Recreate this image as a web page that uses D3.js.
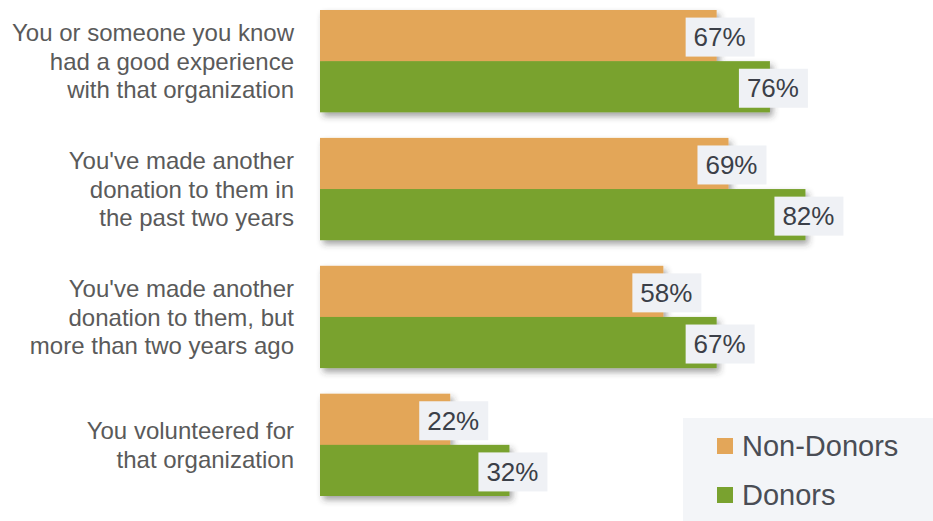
<!DOCTYPE html>
<html>
<head>
<meta charset="utf-8">
<script src="https://cdn.jsdelivr.net/npm/d3@7"></script>
<style>
  body { margin:0; background:#fff; }
  svg { display:block; font-family:"Liberation Sans", Arial, sans-serif; }
</style>
</head>
<body>
<div id="chart"></div>
<script>
// data
var categories = [
    ["You or someone you know", "had a good experience", "with that organization"],
    ["You've made another", "donation to them in", "the past two years"],
    ["You've made another", "donation to them, but", "more than two years ago"],
    ["You volunteered for", "that organization"]
];
var seriesNames = ["Non-Donors", "Donors"];
var nonDonors = [67, 69, 58, 22];
var donors = [76, 82, 67, 32];
var colors = ["#e3a659", "#79a22f"];

var width = 933, height = 521;

var svg = d3.select("#chart").append("svg")
    .attr("width", width)
    .attr("height", height);

var defs = svg.append("defs");
var f = defs.append("filter").attr("id", "shadow")
    .attr("x", "-5%").attr("y", "-10%").attr("width", "115%").attr("height", "130%");
f.append("feDropShadow")
    .attr("dx", 3).attr("dy", 4).attr("stdDeviation", 3)
    .attr("flood-color", "#333").attr("flood-opacity", 0.45);

var x = d3.scaleLinear().domain([0, 100]).range([320, 912]);
var y = d3.scaleBand().domain(d3.range(categories.length)).range([10, 496]).paddingInner(0.2).paddingOuter(0);
var ySub = d3.scaleBand().domain([0, 1]).range([0, y.bandwidth()]);

var values = [nonDonors, donors];

var groups = svg.selectAll("g.grp")
    .data(categories)
    .enter().append("g")
    .attr("class", "grp")
    .attr("transform", function(d, i){ return "translate(0," + y(i) + ")"; });

// bars with a shared drop shadow
groups.append("g")
    .attr("filter", "url(#shadow)")
    .each(function(d, i){
        var g = d3.select(this);
        [0, 1].forEach(function(s){
            g.append("rect")
                .attr("x", x(0))
                .attr("y", ySub(s))
                .attr("width", x(values[s][i]) - x(0))
                .attr("height", ySub.bandwidth() + (s == 0 ? 0.5 : 0))
                .attr("fill", colors[s]);
        });
    });

// value labels in light boxes
groups.each(function(d, i){
    var g = d3.select(this);
    [0, 1].forEach(function(s){
        var cx = x(values[s][i]) + 3;
        var cy = ySub(s) + ySub.bandwidth() / 2 + 1;
        g.append("rect")
            .attr("x", cx - 34)
            .attr("y", cy - 19)
            .attr("width", 69)
            .attr("height", 39)
            .attr("fill", "#eff1f5");
        g.append("text")
            .attr("x", cx)
            .attr("y", cy)
            .attr("dy", "0.36em")
            .attr("text-anchor", "middle")
            .style("font-size", "26px")
            .style("fill", "#3b3f48")
            .text(values[s][i] + "%");
    });
});

// category labels
groups.each(function(d, i){
    var g = d3.select(this);
    var lh = 28.5;
    var c = y.bandwidth() / 2;
    var t = g.append("text")
        .attr("text-anchor", "end")
        .style("font-size", "24px")
        .style("fill", "#5a5a5a");
    d.forEach(function(line, k){
        t.append("tspan")
            .attr("x", 294)
            .attr("y", c + (k - (d.length - 1) / 2) * lh)
            .attr("dy", "0.36em")
            .text(line);
    });
});

// legend
var lg = svg.append("g");
lg.append("rect")
    .attr("x", 683).attr("y", 418)
    .attr("width", 250).attr("height", 103)
    .attr("fill", "#f3f5f8");
seriesNames.forEach(function(name, s){
    var ly = 446 + s * 49;
    lg.append("rect")
        .attr("x", 717).attr("y", ly - 8)
        .attr("width", 16).attr("height", 16)
        .attr("fill", colors[s]);
    lg.append("text")
        .attr("x", 742).attr("y", ly)
        .attr("dy", "0.36em")
        .style("font-size", "29px")
        .style("fill", "#4a4d55")
        .text(name);
});
</script>
</body>
</html>
